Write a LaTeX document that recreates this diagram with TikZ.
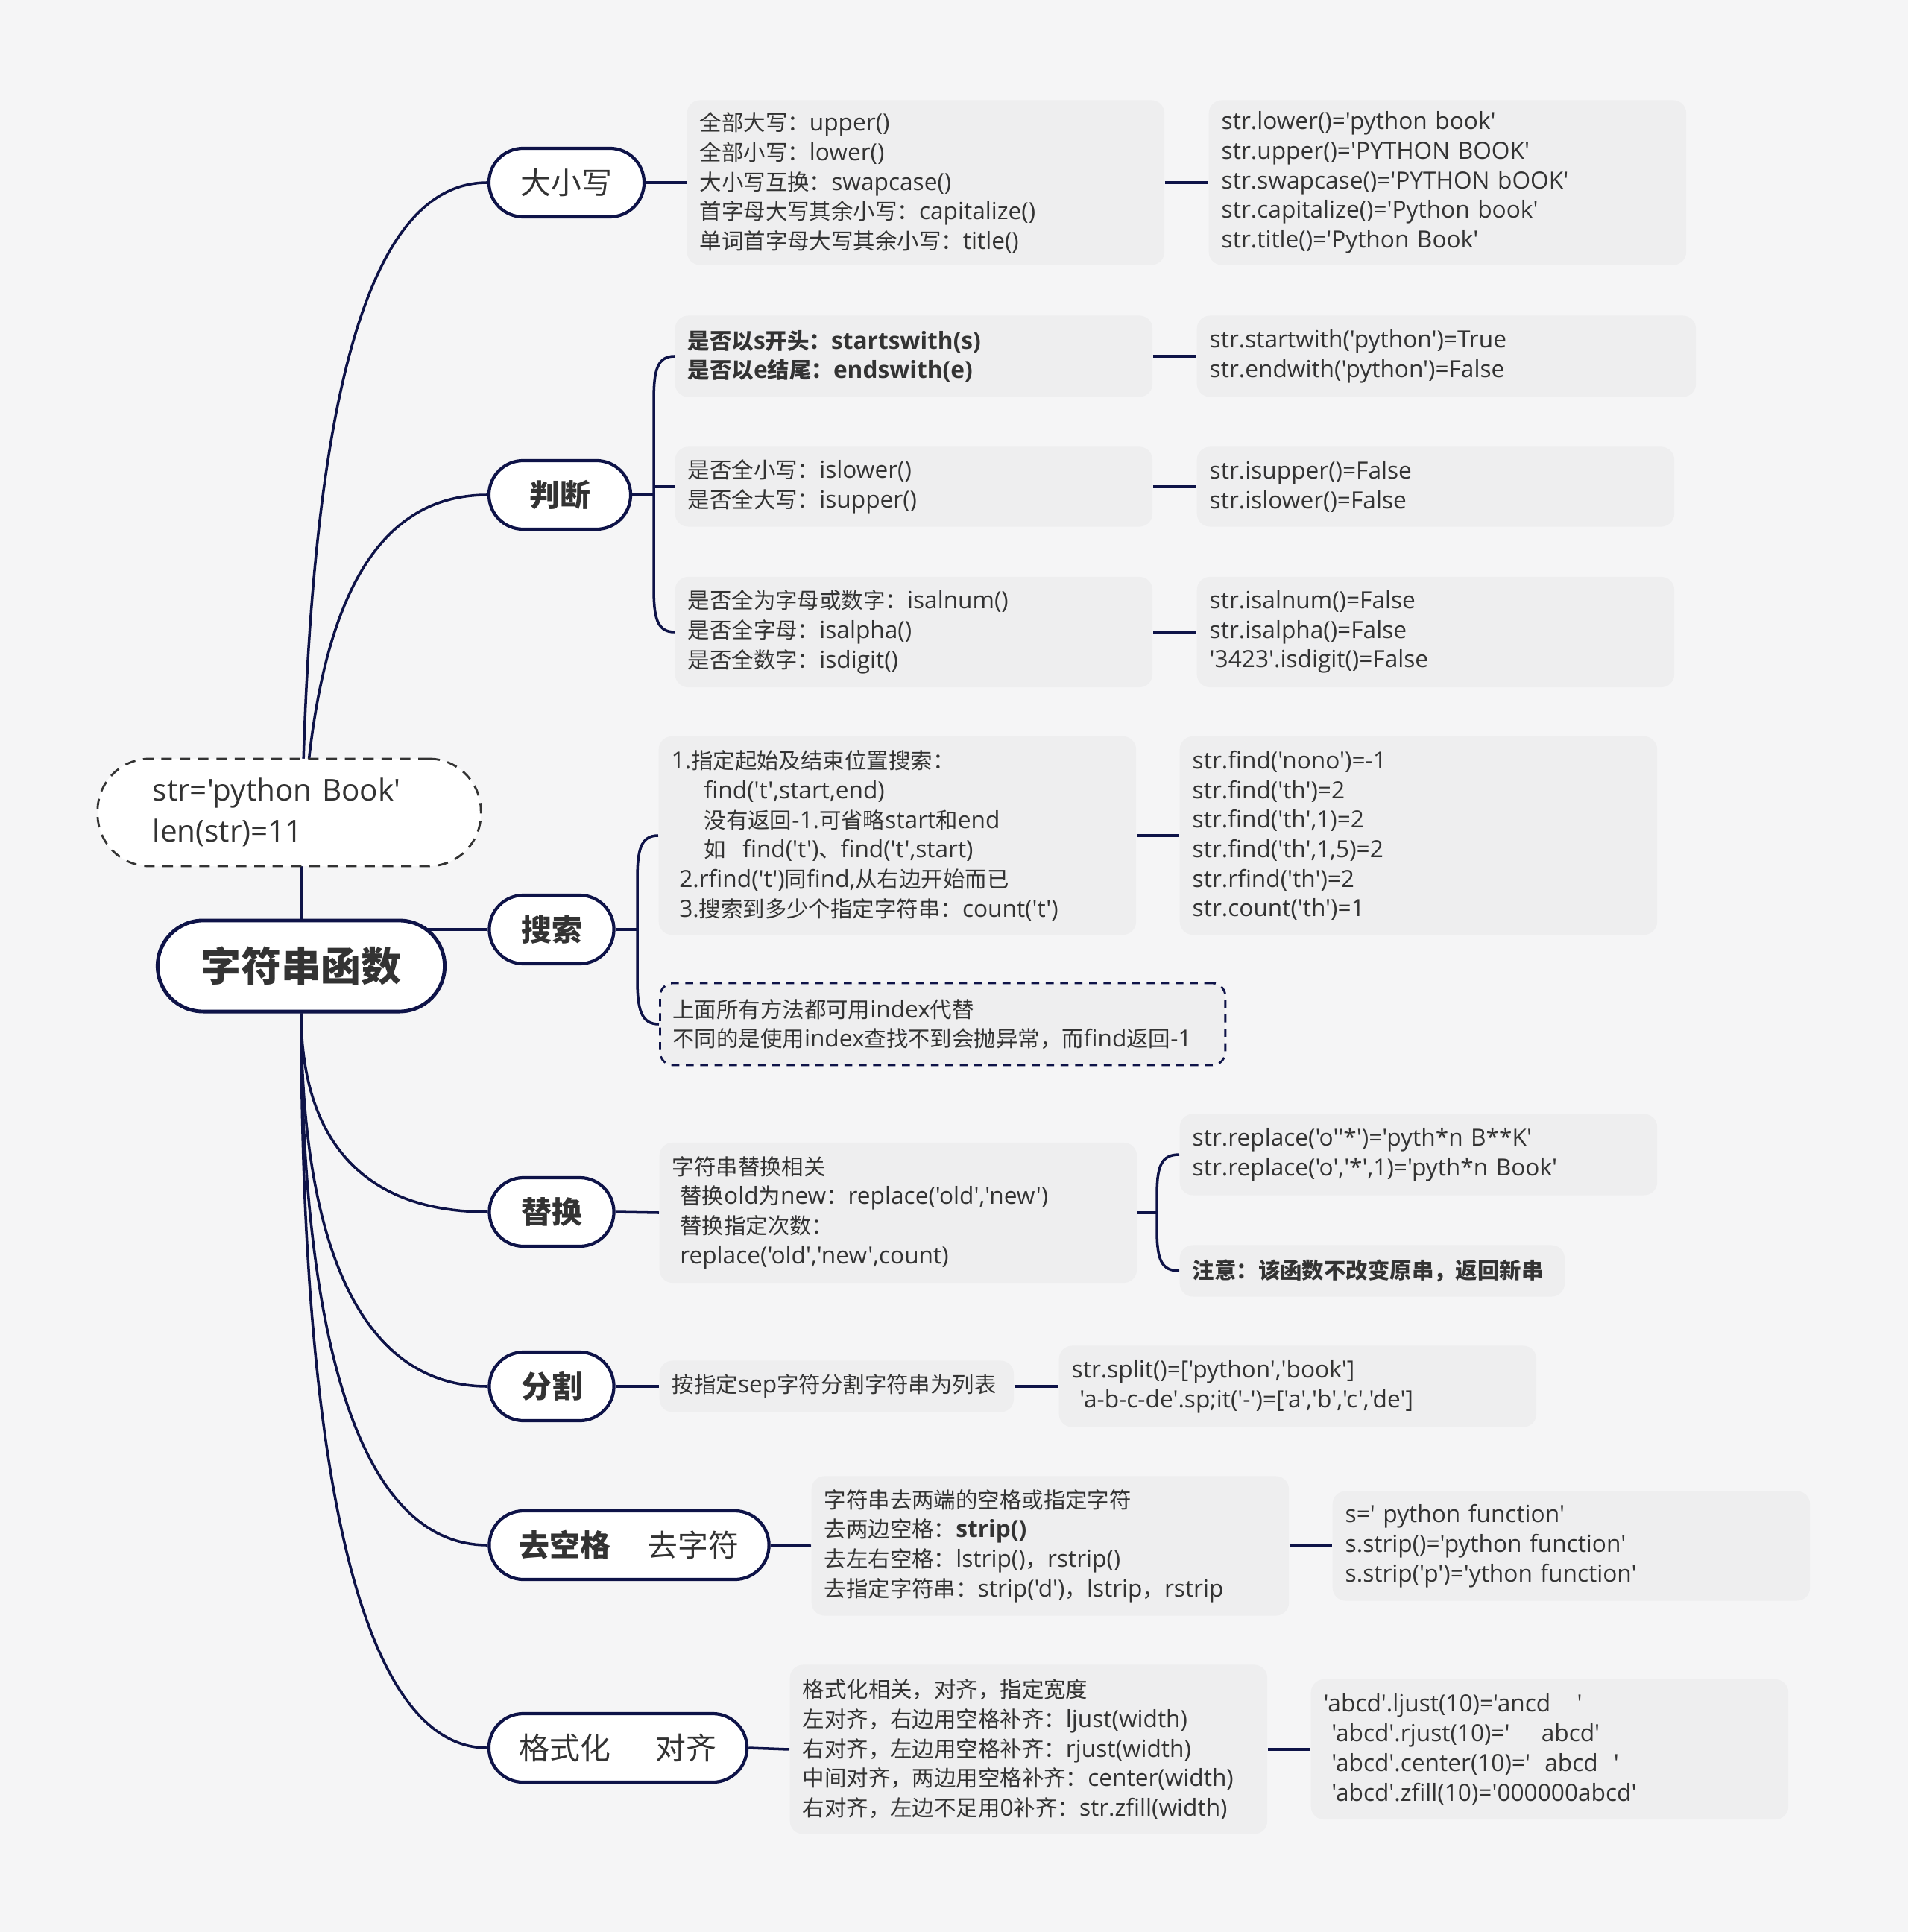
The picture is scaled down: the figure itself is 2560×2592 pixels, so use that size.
\documentclass[tikz,border=0pt]{standalone}
\usepackage{fontspec}
\setmainfont{Open Sans}[Ligatures=TeXOff]
\newfontfamily\cjk{Noto Sans CJK SC}[Scale=0.93]
\usetikzlibrary{calc}

% Chinese runs get the CJK face, the rest stays in Open Sans
\XeTeXinterchartokenstate=1
\newXeTeXintercharclass\hanclass
\count255="3000
\loop\XeTeXcharclass\count255=\hanclass
  \ifnum\count255<"303F \advance\count255 by 1 \repeat
\count255="4E00
\loop\XeTeXcharclass\count255=\hanclass
  \ifnum\count255<"9FFF \advance\count255 by 1 \repeat
\count255="FF00
\loop\XeTeXcharclass\count255=\hanclass
  \ifnum\count255<"FFEF \advance\count255 by 1 \repeat
\XeTeXinterchartoks 0 \hanclass = {\cjk}
\XeTeXinterchartoks 4095 \hanclass = {\cjk}
\XeTeXinterchartoks \hanclass 0 = {\rmfamily}
\XeTeXinterchartoks \hanclass 4095 = {\rmfamily}

\definecolor{bgc}{RGB}{245,245,246}
\definecolor{boxc}{RGB}{238,238,239}
\definecolor{navy}{RGB}{14,19,72}
\definecolor{ink}{RGB}{51,51,51}

\pgfdeclarelayer{bg}
\pgfdeclarelayer{edges}
\pgfsetlayers{bg,edges,main}

\begin{document}
\begin{tikzpicture}[
  x=0.01cm,y=-0.01cm,
  link/.style={draw=navy,line width=1pt},
  topic/.style={draw=navy,line width=1.2pt,fill=white,text=ink,inner sep=0pt,
    minimum height=0.92cm,rounded corners=0.46cm,font=\fontsize{12.5}{14}\selectfont},
  topicb/.style={topic,font=\fontsize{12.5}{14}\selectfont\bfseries},
  tbox/.style={fill=boxc,rounded corners=5pt,text=ink,anchor=west,align=left,
    inner xsep=0.17cm,inner ysep=0pt,text width=6.06cm,font=\fontsize{9}{11.3}\selectfont},
  tboxb/.style={tbox,font=\fontsize{9}{11.3}\selectfont\bfseries}
]
\begin{pgfonlayer}{bg}
  \fill[bgc] (0,0) rectangle (2560,2592);
\end{pgfonlayer}

% centre and the given string
\node[topic,line width=1.4pt,minimum width=3.85cm,minimum height=1.22cm,rounded corners=0.61cm,
  font=\fontsize{16.5}{20}\selectfont\bfseries] (root) at (404,1296) {字符串函数};
\node[draw=ink,line width=0.8pt,dash pattern=on 4pt off 3pt,fill=white,text=ink,rounded corners=0.7cm,
  minimum width=5.14cm,minimum height=1.44cm,inner xsep=0.74cm,text width=3.66cm,align=left,
  font=\fontsize{11.5}{15.5}\selectfont] (note) at (388,1090) {str='python Book'\\len(str)=11};

% topics
\node[topic,minimum width=2.08cm] (dxx) at (760,245) {大小写};
\node[topicb,minimum width=1.90cm] (pd) at (751,664) {判断};
\node[topicb,minimum width=1.67cm] (ss) at (740,1247) {搜索};
\node[topicb,minimum width=1.67cm] (th) at (740,1626) {替换};
\node[topicb,minimum width=1.67cm] (fg) at (740,1860) {分割};
\node[topic,minimum width=3.75cm] (qk) at (844,2073) {{\bfseries 去空格}\hspace{14pt}去字符};
\node[topic,minimum width=3.46cm] (gs) at (829,2345) {格式化\hspace{17pt}对齐};

% upper / lower
\node[tbox,minimum height=2.21cm] (dxxl) at (921,245)
  {全部大写：upper()\\全部小写：lower()\\大小写互换：swapcase()\\首字母大写其余小写：capitalize()\\单词首字母大写其余小写：title()};
\node[tbox,minimum height=2.21cm] (dxxr) at (1621,245)
  {str.lower()='python book'\\str.upper()='PYTHON BOOK'\\str.swapcase()='PYTHON bOOK'\\str.capitalize()='Python book'\\str.title()='Python Book'};

% tests
\node[tboxb,minimum height=1.09cm] (pdl1) at (905,478)
  {是否以s开头：startswith(s)\\是否以e结尾：endswith(e)};
\node[tbox,text width=6.35cm,minimum height=1.09cm] (pdr1) at (1605,478)
  {str.startwith('python')=True\\str.endwith('python')=False};
\node[tbox,minimum height=1.07cm] (pdl2) at (905,653)
  {是否全小写：islower()\\是否全大写：isupper()};
\node[tbox,minimum height=1.07cm] (pdr2) at (1605,653)
  {str.isupper()=False\\str.islower()=False};
\node[tbox,minimum height=1.48cm] (pdl3) at (905,848)
  {是否全为字母或数字：isalnum()\\是否全字母：isalpha()\\是否全数字：isdigit()};
\node[tbox,minimum height=1.48cm] (pdr3) at (1605,848)
  {str.isalnum()=False\\str.isalpha()=False\\'3423'.isdigit()=False};

% search
\node[tbox,minimum height=2.66cm] (ssl) at (883,1121)
  {1.指定起始及结束位置搜索：\\\hspace*{12.5pt}find('t',start,end)\\\hspace*{12.5pt}没有返回-1.可省略start和end\\
   \hspace*{12.5pt}如\hspace{0.7em}find('t')、find('t',start)\\\hspace*{3pt}2.rfind('t')同find,从右边开始而已\\
   \hspace*{3pt}3.搜索到多少个指定字符串：count('t')};
\node[tbox,minimum height=2.66cm] (ssr) at (1582,1121)
  {str.find('nono')=-1\\str.find('th')=2\\str.find('th',1)=2\\str.find('th',1,5)=2\\str.rfind('th')=2\\str.count('th')=1};
\node[tbox,draw=navy,line width=0.8pt,dash pattern=on 3pt off 2.5pt,text width=7.24cm,minimum height=1.10cm] (ssn) at (884,1374)
  {上面所有方法都可用index代替\\不同的是使用index查找不到会抛异常，而find返回-1};

% replace
\node[tbox,minimum height=1.88cm] (thl) at (884,1627)
  {字符串替换相关\\\hspace*{3pt}替换old为new：replace('old','new')\\\hspace*{3pt}替换指定次数：\\\hspace*{3pt}replace('old','new',count)};
\node[tbox,minimum height=1.09cm] (thr1) at (1582,1549)
  {str.replace('o''*')='pyth*n B**K'\\str.replace('o','*',1)='pyth*n Book'};
\node[tboxb,text width=4.82cm,minimum height=0.69cm] (thr2) at (1582,1705)
  {注意：该函数不改变原串，返回新串};

% split
\node[tbox,text width=4.41cm,minimum height=0.69cm] (fgl) at (884,1860)
  {按指定sep字符分割字符串为列表};
\node[tbox,minimum height=1.09cm] (fgr) at (1420,1860)
  {str.split()=['python','book']\\\hspace*{3pt}'a-b-c-de'.sp;it('-')=['a','b','c','de']};

% strip
\node[tbox,minimum height=1.87cm] (qkl) at (1088,2074)
  {字符串去两端的空格或指定字符\\去两边空格：\textbf{strip()}\\去左右空格：lstrip()，rstrip()\\去指定字符串：strip('d')，lstrip，rstrip};
\node[tbox,minimum height=1.47cm] (qkr) at (1787,2074)
  {s=' python function'\\s.strip()='python function'\\s.strip('p')='ython function'};

% format
\node[tbox,minimum height=2.27cm] (gsl) at (1059,2347)
  {格式化相关，对齐，指定宽度\\左对齐，右边用空格补齐：ljust(width)\\右对齐，左边用空格补齐：rjust(width)\\
   中间对齐，两边用空格补齐：center(width)\\右对齐，左边不足用0补齐：str.zfill(width)};
\node[tbox,minimum height=1.88cm] (gsr) at (1758,2347)
  {'abcd'.ljust(10)='ancd\hspace{10pt}'\\\hspace*{3pt}'abcd'.rjust(10)='\hspace{12pt}abcd'\\
   \hspace*{3pt}'abcd'.center(10)='\hspace{5.5pt}abcd\hspace{6pt}'\\\hspace*{3pt}'abcd'.zfill(10)='000000abcd'};

\coordinate (pdb) at (877,664);
\coordinate (ssb) at (855,1247);
\coordinate (thb) at (1552,1627);

\begin{pgfonlayer}{edges}
  % from the centre
  \draw[link] (root.north) -- (root.north |- note.south);
  \draw[link] (root.north) .. controls +(0,-643) and +(-175,0) .. (dxx.west);
  \draw[link] (root.north) .. controls +(0,-371) and +(-175,0) .. (pd.west);
  \draw[link] (ss.west) -- (ss.west -| root.center);
  \draw[link] (root.south) .. controls +(0,161) and +(-175,0) .. (th.west);
  \draw[link] (root.south) .. controls +(0,302) and +(-175,0) .. (fg.west);
  \draw[link] (root.south) .. controls +(0,430) and +(-175,0) .. (qk.west);
  \draw[link] (root.south) .. controls +(0,593) and +(-175,0) .. (gs.west);

  % topics to boxes
  \draw[link] (dxx.east) -- (dxxl.west);
  \draw[link] (dxxl.east) -- (dxxr.west);

  \draw[link] (pd.east) -- (pdb);
  \draw[link] (pdl1.west) .. controls +(-24,0) and +(0,-40) .. ($(pdl1.west -| pdb)+(0,60)$)
    -- ($(pdl3.west -| pdb)+(0,-60)$) .. controls +(0,40) and +(-24,0) .. (pdl3.west);
  \draw[link] (pdl2.west -| pdb) -- (pdl2.west);
  \draw[link] (pdl1.east) -- (pdr1.west);
  \draw[link] (pdl2.east) -- (pdr2.west);
  \draw[link] (pdl3.east) -- (pdr3.west);

  \draw[link] (ss.east) -- (ssb);
  \draw[link] (ssl.west) .. controls +(-24,0) and +(0,-40) .. ($(ssl.west -| ssb)+(0,60)$)
    -- ($(ssn.west -| ssb)+(0,-60)$) .. controls +(0,40) and +(-24,0) .. (ssn.west);
  \draw[link] (ssl.east) -- (ssr.west);

  \draw[link] (th.east) -- (thl.west);
  \draw[link] (thl.east) -- (thb);
  \draw[link] (thr1.west) .. controls +(-24,0) and +(0,-40) .. ($(thr1.west -| thb)+(0,55)$)
    -- ($(thr2.west -| thb)+(0,-55)$) .. controls +(0,40) and +(-24,0) .. (thr2.west);

  \draw[link] (fg.east) -- (fgl.west);
  \draw[link] (fgl.east) -- (fgr.west);
  \draw[link] (qk.east) -- (qkl.west);
  \draw[link] (qkl.east) -- (qkr.west);
  \draw[link] (gs.east) -- (gsl.west);
  \draw[link] (gsl.east) -- (gsr.west);
\end{pgfonlayer}
\end{tikzpicture}
\end{document}
